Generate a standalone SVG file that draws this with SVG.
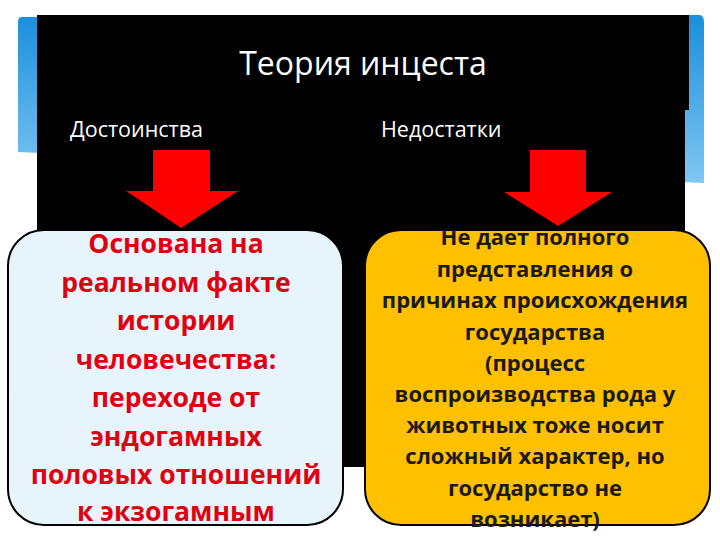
<svg xmlns="http://www.w3.org/2000/svg" width="720" height="540" viewBox="0 0 720 540">
  <defs>
    <linearGradient id="blueGrad" x1="0" y1="0" x2="0" y2="1">
      <stop offset="0" stop-color="#1b8fdc"/>
      <stop offset="1" stop-color="#7fc6f3"/>
    </linearGradient>
    <style>
      .hdr { font-family: "Open Sans", "Noto Sans", sans-serif; fill: #ffffff; }
      .arrow { fill: #ff0000; }
      .box { stroke: #000000; stroke-width: 2; }
      .ltxt { font-family: "Open Sans", "Noto Sans", sans-serif; font-weight: bold; fill: #e0000f; font-size: 26.5px; text-anchor: middle; }
      .rtxt { font-family: "Open Sans", "Noto Sans", sans-serif; font-weight: bold; fill: #1a1a1a; font-size: 22px; text-anchor: middle; }
    </style>
  </defs>
  <rect width="720" height="540" fill="#ffffff"/>
  <g id="background">
    <path d="M22,17 L700,15 Q704,16 704,22 L704,183 L18,152 L18,22 Q18,17 22,17 Z" fill="url(#blueGrad)"/>
    <path d="M37,15 L689,15 L689,110 L685,110 L685,467 L37,467 Z" fill="#000000"/>
  </g>
  <g id="title">
    <text class="hdr" x="363" y="75" font-size="32" text-anchor="middle">Теория инцеста</text>
  </g>
  <g id="merits-label">
    <text class="hdr" x="70" y="137" font-size="21.5">Достоинства</text>
  </g>
  <g id="flaws-label">
    <text class="hdr" x="381" y="137" font-size="21.5">Недостатки</text>
  </g>
  <g id="connectors">
    <path class="arrow" d="M153,150 L210,150 L210,191 L238,191 L181,228 L126,191 L153,191 Z"/>
    <path class="arrow" d="M530,150 L586,150 L586,192 L612,192 L558,226 L504,192 L530,192 Z"/>
  </g>
  <g id="merits-box">
    <rect class="box" x="8" y="230" width="335" height="295" rx="36" ry="36" fill="#e8f4fc"/>
    <text class="ltxt" x="176" y="253">Основана на</text>
    <text class="ltxt" x="176" y="292">реальном факте</text>
    <text class="ltxt" x="176" y="330">истории</text>
    <text class="ltxt" x="176" y="369">человечества:</text>
    <text class="ltxt" x="176" y="407">переходе от</text>
    <text class="ltxt" x="176" y="446">эндогамных</text>
    <text class="ltxt" x="176" y="484">половых отношений</text>
    <text class="ltxt" x="176" y="521">к экзогамным</text>
  </g>
  <g id="flaws-box">
    <rect class="box" x="365" y="230" width="345" height="295" rx="36" ry="36" fill="#ffc000"/>
    <text class="rtxt" x="535" y="245">Не дает полного</text>
    <text class="rtxt" x="535" y="277">представления о</text>
    <text class="rtxt" x="535" y="308">причинах происхождения</text>
    <text class="rtxt" x="535" y="340">государства</text>
    <text class="rtxt" x="535" y="371">(процесс</text>
    <text class="rtxt" x="535" y="402">воспроизводства рода у</text>
    <text class="rtxt" x="535" y="433">животных тоже носит</text>
    <text class="rtxt" x="535" y="464">сложный характер, но</text>
    <text class="rtxt" x="535" y="496">государство не</text>
    <text class="rtxt" x="535" y="527">возникает)</text>
  </g>
</svg>
